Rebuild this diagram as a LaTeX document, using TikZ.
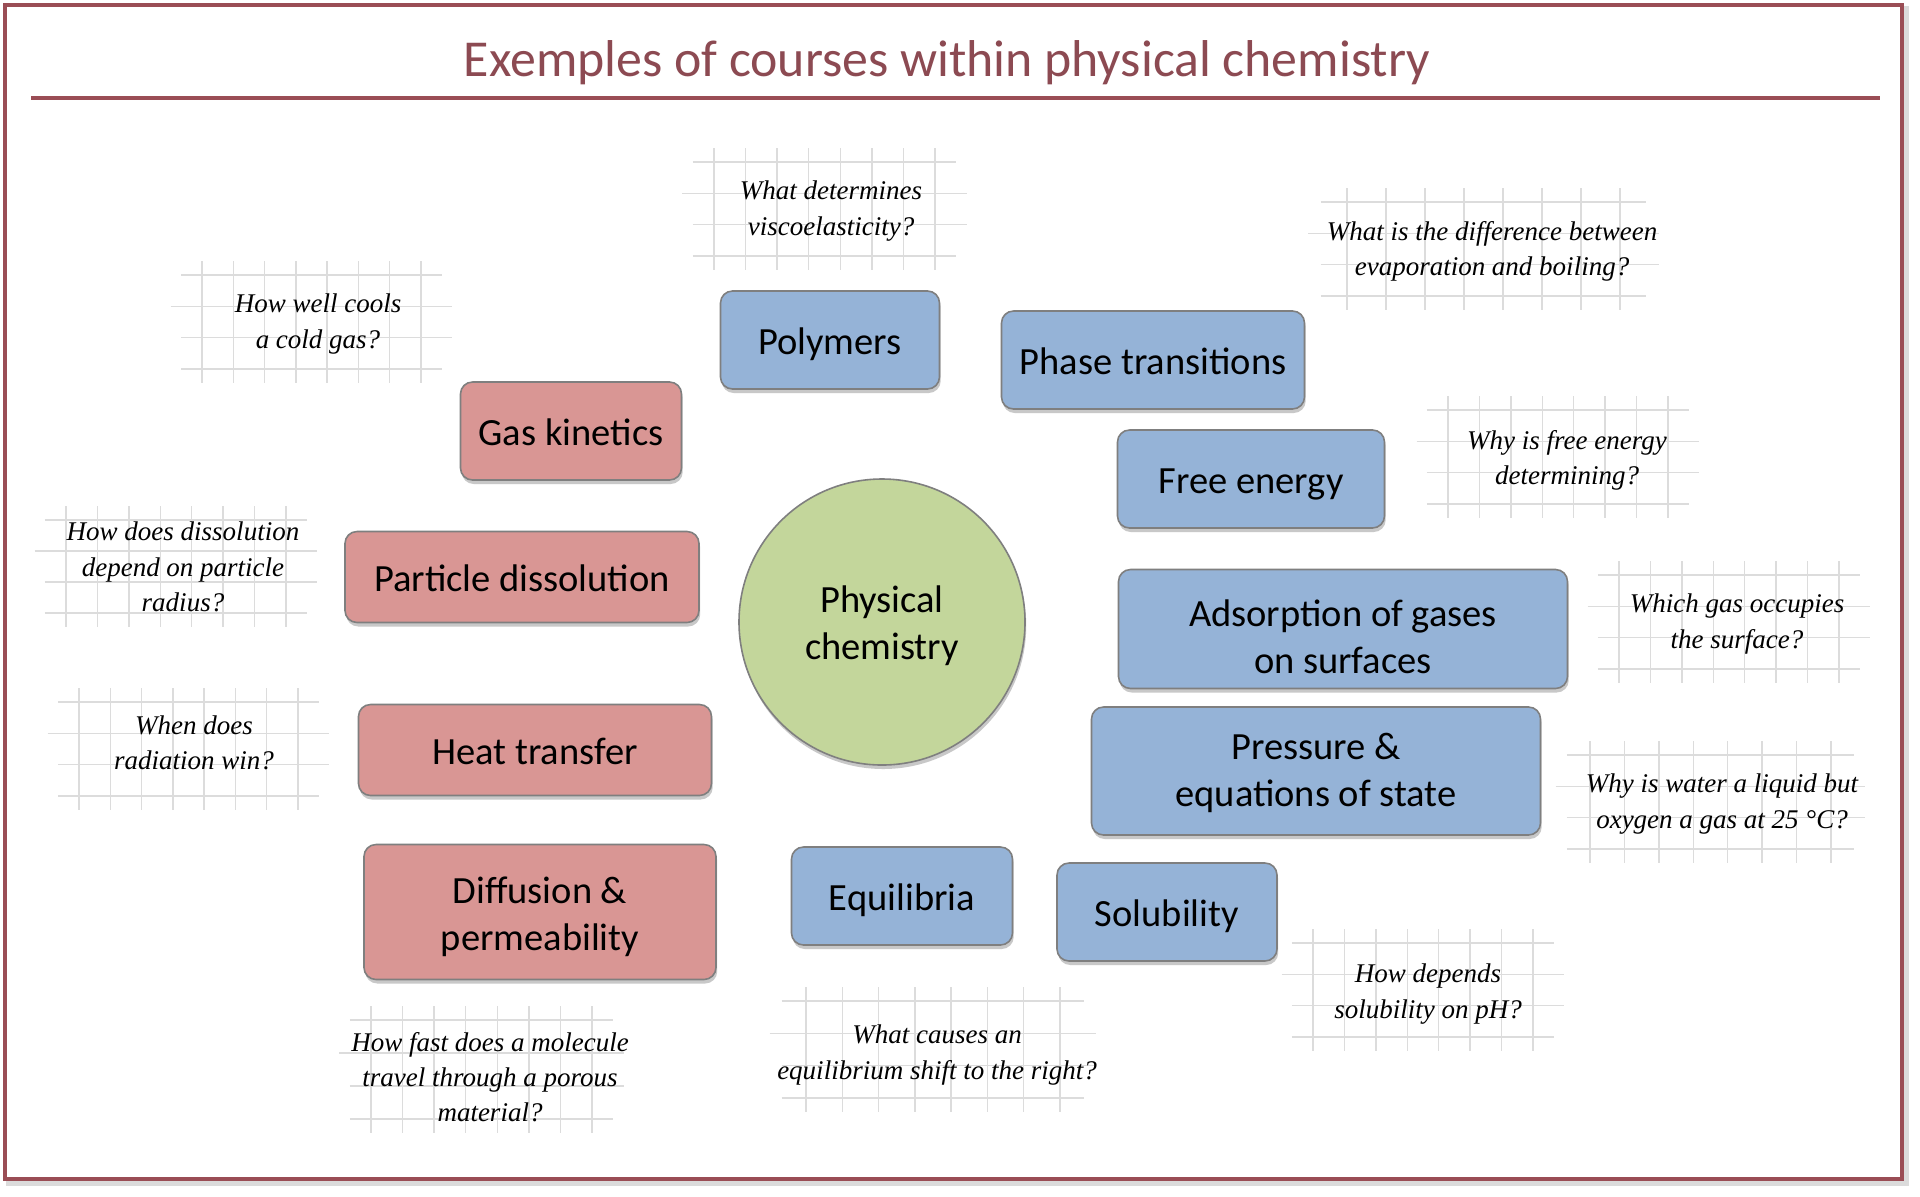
\documentclass[tikz,border=0pt]{standalone}
\usepackage{fontspec}
\setmainfont{Carlito}
\newfontfamily\notefont{Liberation Serif}
\usetikzlibrary{shadows}
\definecolor{frameRed}{HTML}{9A4D55}
\definecolor{titleRed}{HTML}{8C4A52}
\definecolor{boxBlue}{HTML}{95B3D7}
\definecolor{boxRed}{HTML}{D99694}
\definecolor{circGreen}{HTML}{C3D69B}
\definecolor{borderGray}{HTML}{7F7F7F}
\definecolor{gridGray}{HTML}{DCDCDC}
\newcommand\lineup[2]{\raisebox{0pt}[\dimexpr\height+#1\relax][\depth]{#2}}
\tikzset{
  topic/.style={draw=borderGray, line width=0.8pt, rounded corners=6pt, align=center,
    font=\fontsize{19.25}{23.5}\selectfont, inner sep=0pt,
    drop shadow={shadow xshift=0.6pt, shadow yshift=-2pt, opacity=0.3, fill=black!70}},
  oneline/.style={text height=17.6pt, text depth=3pt},
  bluebox/.style={topic, fill=boxBlue},
  redbox/.style={topic, fill=boxRed},
  note/.style={align=center, font=\notefont\itshape\fontsize{13.5}{17.6}\selectfont, inner sep=0pt},
  gridline/.style={draw=gridGray, line width=0.75pt},
}
\newcommand\qgrid[4]{%
  \pgfmathsetmacro\gdx{(#2-#1)/7}%
  \pgfmathsetmacro\gdy{(#4-#3)/3}%
  \foreach \k in {0,...,7}{\draw[gridline] ({#1+\k*\gdx},{#3-14}) -- ({#1+\k*\gdx},{#4+14});}%
  \draw[gridline] ({#1-0.67*\gdx},{#3}) -- ({#2+0.67*\gdx},{#3});%
  \draw[gridline] ({#1-\gdx},{#3+\gdy}) -- ({#2+\gdx},{#3+\gdy});%
  \draw[gridline] ({#1-0.67*\gdx},{#3+2*\gdy}) -- ({#2+\gdx},{#3+2*\gdy});%
  \draw[gridline] ({#1-0.67*\gdx},{#4}) -- ({#2+0.67*\gdx},{#4});%
}
\begin{document}
\begin{tikzpicture}[x=0.5pt, y=-0.5pt]
\useasboundingbox[fill=white] (0,0) rectangle (1920,1196);
% frame
\draw[line width=3pt, black!14] (9,9) rectangle (1906,1183);
\draw[line width=2pt, frameRed, fill=white] (5,5) rectangle (1902,1179);
\node[font=\fontsize{25.9}{30}\selectfont, text=titleRed, inner sep=0pt] (title) at (947,63) {Exemples of courses within physical chemistry};
\draw[line width=1.8pt, frameRed] (31,98) -- (1880,98);

% grids
\qgrid{714}{935}{162}{256}
\qgrid{1347}{1620}{202}{296}
\qgrid{1448}{1668}{410}{504}
\qgrid{202}{421}{275}{369}
\qgrid{66}{286}{520}{613}
\qgrid{79}{298}{702}{796}
\qgrid{1619}{1839}{575}{669}
\qgrid{1590}{1831}{755}{849}
\qgrid{1313}{1533}{943}{1037}
\qgrid{371}{592}{1020}{1119}
\qgrid{806}{1060}{1001}{1098}

% notes
\node[note] (n1) at (831,211) {What determines\\viscoelasticity?};
\node[note] (n2) at (1492,251) {What is the difference between\\evaporation and boiling?};
\node[note] (n3) at (1567,460) {Why is free energy\\determining?};
\node[note] (n4) at (318,324) {How well cools\\a cold gas?};
\node[note] (n5) at (183,567) {How does dissolution\\depend on particle\\radius?};
\node[note] (n6) at (194,743) {When does\\radiation win?};
\node[note] (n7) at (1737,624) {Which gas occupies\\the surface?};
\node[note] (n8) at (1722,804) {Why is water a liquid but\\oxygen a gas at 25 °C?};
\node[note] (n9) at (1428,994) {How depends\\solubility on pH?};
\node[note] (n10) at (490,1077) {How fast does a molecule\\travel through a porous\\material?};
\node[note] (n11) at (937,1055) {What causes an\\equilibrium shift to the right?};

% topics
\node[bluebox, oneline, minimum width=109.5pt, minimum height=49pt] (poly) at (830,340) {Polymers};
\node[bluebox, oneline, minimum width=151.5pt, minimum height=49pt] (phase) at (1153,360) {Phase transitions};
\node[bluebox, oneline, minimum width=133.5pt, minimum height=49pt] (free) at (1251,479) {Free energy};
\node[bluebox, minimum width=224.5pt, minimum height=59.5pt] (ads) at (1343,629) {\lineup{7.5pt}{Adsorption of gases}\\on surfaces};
\node[bluebox, minimum width=224.5pt, minimum height=64pt] (press) at (1316,771) {\lineup{2pt}{Pressure \&}\\equations of state};
\node[bluebox, oneline, minimum width=110pt, minimum height=49pt] (sol) at (1167,912) {Solubility};
\node[bluebox, oneline, minimum width=110.5pt, minimum height=49pt] (equi) at (902,896) {Equilibria};
\node[redbox, minimum width=176pt, minimum height=67.5pt] (diff) at (540,912) {\lineup{5pt}{Diffusion \&}\\permeability};
\node[redbox, oneline, minimum width=176.5pt, minimum height=45.5pt] (heat) at (535,750) {Heat transfer};
\node[redbox, oneline, minimum width=177pt, minimum height=45.5pt] (part) at (522,577) {Particle dissolution};
\node[redbox, oneline, minimum width=110.5pt, minimum height=49pt] (gas) at (571,431) {Gas kinetics};
\node[circle, draw=borderGray, line width=0.8pt, fill=circGreen, minimum size=143pt, inner sep=0pt,
  align=center, font=\fontsize{19.25}{23.5}\selectfont,
  drop shadow={shadow xshift=0.6pt, shadow yshift=-2pt, opacity=0.3, fill=black!70}] (pc) at (882,622) {\lineup{4pt}{Physical}\\chemistry};
\end{tikzpicture}
\end{document}
